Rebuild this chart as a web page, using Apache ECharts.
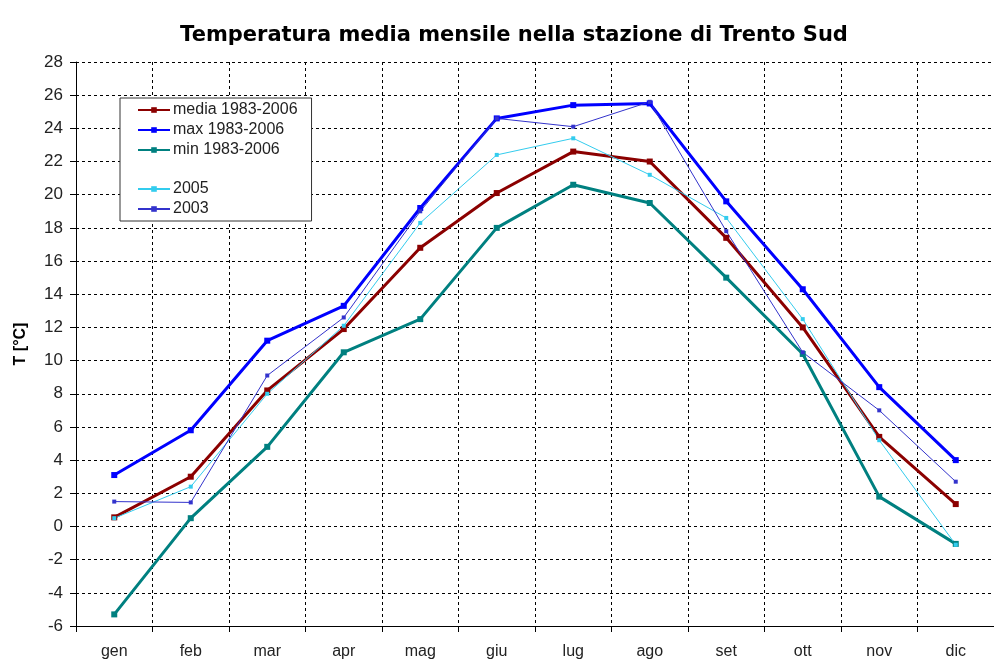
<!DOCTYPE html>
<html>
<head>
<meta charset="utf-8">
<script src="https://cdn.jsdelivr.net/npm/echarts@6/dist/echarts.min.js"></script>
<style>
  html, body { margin: 0; padding: 0; background: #fff; }
  #chart { width: 994px; height: 660px; }
</style>
</head>
<body>
<div id="chart"></div>
<script>
  // mesi e valori
  let mesi = ['gen', 'feb', 'mar', 'apr', 'mag', 'giu', 'lug', 'ago', 'set', 'ott', 'nov', 'dic']
  let media = [0.55, 3.0, 8.2, 11.9, 16.8, 20.1, 22.6, 22.0, 17.4, 12.0, 5.4, 1.35]
  let massima = [3.1, 5.8, 11.2, 13.3, 19.2, 24.6, 25.4, 25.5, 19.6, 14.3, 8.4, 4.0]
  let minima = [-5.3, 0.5, 4.8, 10.5, 12.5, 18.0, 20.6, 19.5, 15.0, 10.4, 1.8, -1.05]
  let anno2005 = [0.5, 2.4, 8.0, 12.1, 18.3, 22.4, 23.4, 21.2, 18.6, 12.5, 5.2, -1.1]
  let anno2003 = [1.5, 1.45, 9.1, 12.6, 19.0, 24.6, 24.1, 25.6, 17.8, 10.5, 7.0, 2.7]
  let yTicks = {min: -6, max: 28, step: 2}

  let font = 'Liberation Sans, Arial, sans-serif'

  function serie(name, data, color, width, size) {
    return {
      name: name,
      type: 'line',
      data: data,
      symbol: 'rect',
      symbolSize: size,
      showAllSymbol: true,
      lineStyle: {color: color, width: width},
      itemStyle: {color: color},
      emphasis: {disabled: true}
    }
  }

  let legendText = {fontFamily: font, fontSize: 16, color: '#222', lineHeight: 16, padding: [0, 0, 0, -2]}

  let myChart = echarts.init(document.getElementById('chart'))
  myChart.setOption({
    animation: false,
    backgroundColor: '#fff',
    title: {
      text: 'Temperatura media mensile nella stazione di Trento Sud',
      left: 509,
      textAlign: 'center',
      top: 20,
      textStyle: {fontFamily: 'DejaVu Sans, sans-serif', fontSize: 21, fontWeight: 'bold', color: '#000'}
    },
    legend: [
      {
        data: ['media 1983-2006', 'max 1983-2006', 'min 1983-2006'],
        orient: 'vertical',
        left: 120,
        top: 98,
        itemWidth: 32,
        itemHeight: 7,
        itemGap: 4,
        padding: [4, 14, 63, 17],
        backgroundColor: '#fff',
        borderColor: '#333',
        borderWidth: 1,
        textStyle: legendText
      },
      {
        data: ['2005', '2003'],
        orient: 'vertical',
        left: 120,
        top: 177,
        itemWidth: 32,
        itemHeight: 7,
        itemGap: 4,
        padding: [4, 14, 4, 17],
        textStyle: legendText
      }
    ],
    grid: {left: 76, top: 62, right: -12, bottom: 34},
    xAxis: {
      type: 'category',
      data: mesi,
      boundaryGap: true,
      axisLine: {onZero: false, lineStyle: {color: '#000', width: 1}},
      axisTick: {show: true, length: 6, lineStyle: {color: '#000'}},
      axisLabel: {fontFamily: font, fontSize: 16, color: '#222', margin: 18},
      splitLine: {show: true, interval: 0, lineStyle: {color: '#000', type: [3, 3], width: 1}}
    },
    yAxis: {
      type: 'value',
      min: yTicks.min,
      max: yTicks.max,
      interval: yTicks.step,
      name: 'T [°C]',
      nameLocation: 'middle',
      nameGap: 47,
      nameTextStyle: {fontFamily: font, fontSize: 16, fontWeight: 'bold', color: '#000'},
      axisLine: {show: true, lineStyle: {color: '#000', width: 1}},
      axisTick: {show: true, length: 6, lineStyle: {color: '#000'}},
      axisLabel: {fontFamily: font, fontSize: 17, color: '#222', margin: 13},
      splitLine: {show: true, lineStyle: {color: '#000', type: [3, 3], width: 1}}
    },
    series: [
      serie('media 1983-2006', media, '#8b0000', 3, 6),
      serie('max 1983-2006', massima, '#0000ff', 3, 6),
      serie('min 1983-2006', minima, '#008080', 3, 6),
      serie('2005', anno2005, '#33ccee', 1, 4),
      serie('2003', anno2003, '#3333cc', 1, 4)
    ]
  })
</script>
</body>
</html>
